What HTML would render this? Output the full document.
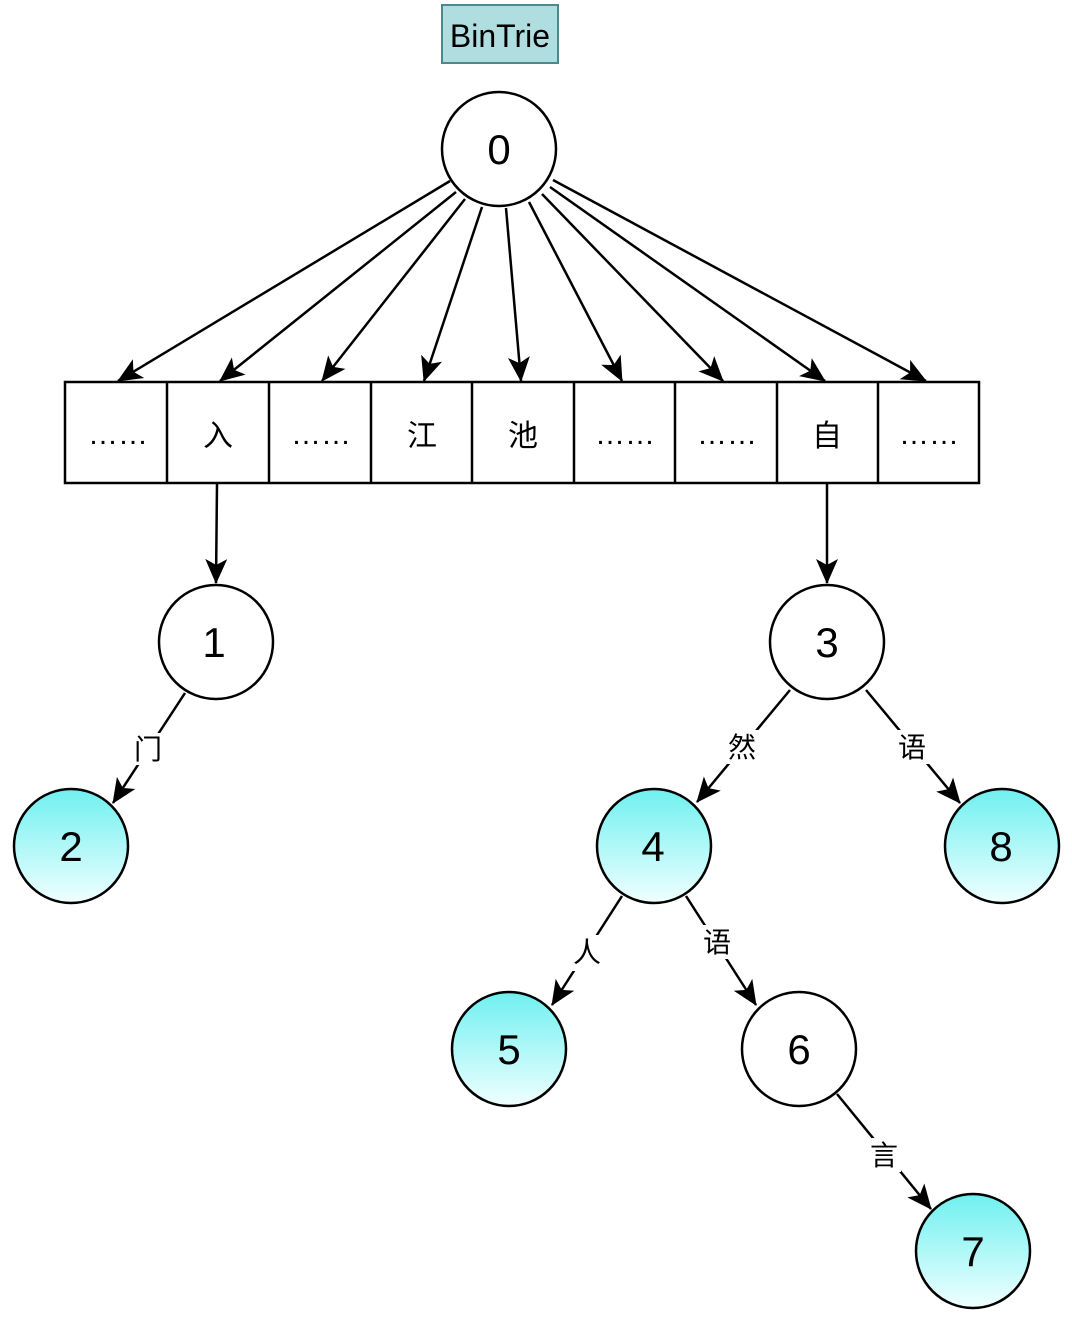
<!DOCTYPE html>
<html><head><meta charset="utf-8"><style>
html,body{margin:0;padding:0;background:#fff;}
svg{display:block;}
text{font-family:"Liberation Sans","Noto Sans CJK SC",sans-serif;}
</style></head><body>
<svg width="1072" height="1318" viewBox="0 0 1072 1318" xmlns="http://www.w3.org/2000/svg">
<defs>
<marker id="a" markerWidth="14" markerHeight="14" refX="13" refY="7" orient="auto" markerUnits="userSpaceOnUse" viewBox="0 0 14 14">
<path d="M0,0 L14,7 L0,14 L4,7 Z" fill="#000"/>
</marker>
<marker id="b" markerWidth="26" markerHeight="26" refX="24" refY="13" orient="auto" markerUnits="userSpaceOnUse" viewBox="0 0 26 26">
<path d="M0,2 L25,13 L0,24 L6,13 Z" fill="#000"/>
</marker>
<linearGradient id="g" x1="0" y1="0" x2="0" y2="1">
<stop offset="0" stop-color="#6ff0f0"/><stop offset="1" stop-color="#f0ffff"/>
</linearGradient>
</defs>
<rect x="442" y="5" width="116" height="58" fill="#b0dde0" stroke="#4a8a8f" stroke-width="2"/>
<text x="500" y="47" font-size="32" text-anchor="middle">BinTrie</text>

<g stroke="#000" stroke-width="2.5" fill="none" marker-end="url(#b)">
<line x1="450" y1="181" x2="118" y2="381"/>
<line x1="456" y1="192" x2="220" y2="381"/>
<line x1="465" y1="199" x2="322" y2="381"/>
<line x1="482" y1="207" x2="424" y2="381"/>
<line x1="506" y1="208" x2="521" y2="381"/>
<line x1="529" y1="202" x2="622" y2="381"/>
<line x1="542" y1="194" x2="723" y2="381"/>
<line x1="550" y1="187" x2="825" y2="381"/>
<line x1="553" y1="180" x2="926" y2="381"/>
<line x1="217" y1="484" x2="216" y2="583"/>
<line x1="827" y1="484" x2="827" y2="583"/>
<line x1="185" y1="693" x2="113" y2="803"/>
<line x1="790" y1="690" x2="697" y2="802"/>
<line x1="866" y1="690" x2="960" y2="803"/>
<line x1="622" y1="896" x2="552" y2="1005"/>
<line x1="686" y1="896" x2="756" y2="1005"/>
<line x1="837" y1="1094" x2="931" y2="1209"/>
</g>

<g stroke="#000" stroke-width="2.5" fill="#fff">
<rect x="65" y="382" width="914" height="101"/>
<line x1="167" y1="382" x2="167" y2="483"/><line x1="269" y1="382" x2="269" y2="483"/>
<line x1="371" y1="382" x2="371" y2="483"/><line x1="472" y1="382" x2="472" y2="483"/>
<line x1="574" y1="382" x2="574" y2="483"/><line x1="675" y1="382" x2="675" y2="483"/>
<line x1="777" y1="382" x2="777" y2="483"/><line x1="878" y1="382" x2="878" y2="483"/>
</g>
<g font-size="30" text-anchor="middle">
<text x="118" y="444">……</text><text x="218" y="446">入</text><text x="321" y="444">……</text>
<text x="422" y="446">江</text><text x="523" y="446">池</text><text x="625" y="444">……</text>
<text x="727" y="444">……</text><text x="827" y="446">自</text><text x="929" y="444">……</text>
</g>

<g stroke="#000" stroke-width="2.5">
<circle cx="499" cy="149" r="57" fill="#fff"/>
<circle cx="216" cy="642" r="57" fill="#fff"/>
<circle cx="71" cy="846" r="57" fill="url(#g)"/>
<circle cx="827" cy="642" r="57" fill="#fff"/>
<circle cx="654" cy="846" r="57" fill="url(#g)"/>
<circle cx="1002" cy="846" r="57" fill="url(#g)"/>
<circle cx="509" cy="1049" r="57" fill="url(#g)"/>
<circle cx="799" cy="1049" r="57" fill="#fff"/>
<circle cx="973" cy="1251" r="57" fill="url(#g)"/>
</g>
<g font-size="42" text-anchor="middle">
<text x="499" y="164">0</text><text x="214" y="657">1</text><text x="71" y="861">2</text>
<text x="827" y="657">3</text><text x="653" y="861">4</text><text x="1001" y="861">8</text>
<text x="509" y="1064">5</text><text x="799" y="1064">6</text><text x="973" y="1266">7</text>
</g>
<g font-size="28" text-anchor="middle">
<rect x="132" y="733" width="32" height="32" fill="#fff"/><text x="148" y="759">门</text>
<rect x="725" y="730" width="34" height="34" fill="#fff"/><text x="742" y="757">然</text>
<rect x="895" y="730" width="34" height="34" fill="#fff"/><text x="912" y="757">语</text>
<rect x="570" y="935" width="34" height="36" fill="#fff"/><text x="587" y="962">人</text>
<rect x="700" y="925" width="34" height="34" fill="#fff"/><text x="717" y="952">语</text>
<rect x="867" y="1138" width="34" height="34" fill="#fff"/><text x="884" y="1165">言</text>
</g>
</svg>
</body></html>
